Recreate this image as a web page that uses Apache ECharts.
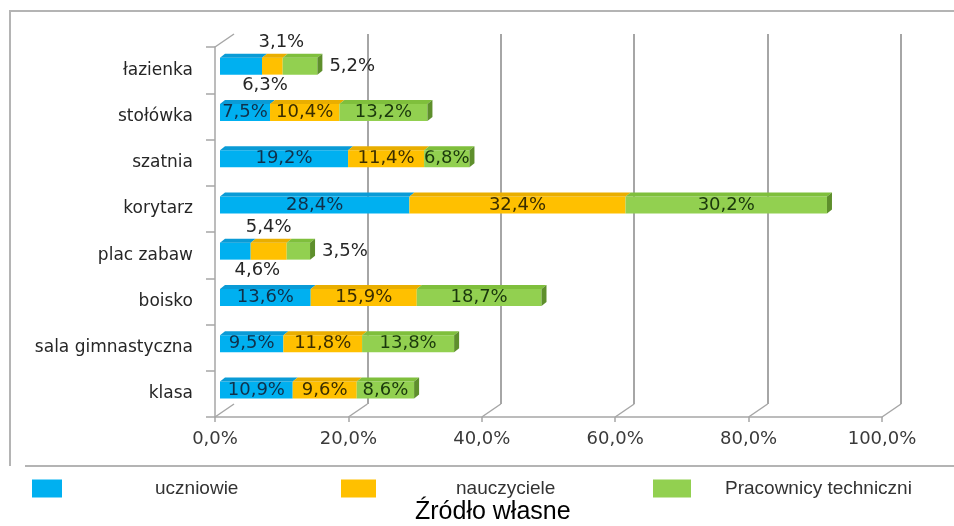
<!DOCTYPE html>
<html>
<head>
<meta charset="utf-8">
<script src="https://cdn.jsdelivr.net/npm/echarts@6/dist/echarts.min.js"></script>
<style>html,body{margin:0;padding:0;background:#fff;}#c{width:954px;height:526px;}</style>
</head>
<body>
<div id="c"></div>
<script>
const categories = ['łazienka','stołówka','szatnia','korytarz','plac zabaw','boisko','sala gimnastyczna','klasa'];
const uczniowie   = [6.3, 7.5, 19.2, 28.4, 4.6, 13.6, 9.5, 10.9];
const nauczyciele = [3.1, 10.4, 11.4, 32.4, 5.4, 15.9, 11.8, 9.6];
const techniczni  = [5.2, 13.2, 6.8, 30.2, 3.5, 18.7, 13.8, 8.6];
const seriesNames = ['uczniowie', 'nauczyciele', 'Pracownicy techniczni'];
const xTicks = [0, 20, 40, 60, 80, 100];
const sourceText = 'Źródło własne';

const values = [uczniowie, nauczyciele, techniczni];
const colors = ['#00b0f0', '#ffc000', '#92d050'];
const topColors = ['#0a9bd6', '#e9ae00', '#7fbf3c'];
const sideColor = '#5e8f2c';
const insideText = ['#10304a', '#3a2d00', '#1a380c'];
const BAR_H = 17, DX = 5, DY = 4;   // bar depth
const WX = 19, WY = 13;              // wall depth

const fmt = v => v.toFixed(1).replace('.', ',') + '%';

// label overrides for small segments
const special = {
  'łazienka':   [{position:'bottom', distance:2, offset:[24,0]}, {position:'top', distance:6, offset:[9,0]}, {position:'right', distance:12}],
  'plac zabaw': [{position:'bottom', distance:2, offset:[22,0]}, {position:'top', distance:6, offset:[0,0]}, {position:'right', distance:12}]
};

const lblFont = {fontFamily:'DejaVu Sans', fontSize:18};

const series = [];
values.forEach((arr, si) => {
  series.push({
    type:'bar', name:seriesNames[si], stack:'total', xAxisIndex:2, yAxisIndex:2,
    barWidth:BAR_H, itemStyle:{color:colors[si]}, z:3,
    label:Object.assign({show:true, position:'inside', color:insideText[si], formatter:p => fmt(p.value)}, lblFont),
    data: arr.map((v, ci) => {
      const sp = special[categories[ci]];
      if (!sp) return v;
      return {value:v, label:Object.assign({color:'#262626'}, sp[si])};
    })
  });
});

// 3D faces
values.forEach((arr, si) => {
  const data = arr.map((v, ci) => {
    let s = 0; for (let k = 0; k < si; k++) s += values[k][ci];
    return [ci, s, s + v];
  });
  const last = si === values.length - 1;
  series.push({
    type:'custom', xAxisIndex:2, yAxisIndex:2, z:4, silent:true,
    encode:{x:[1,2], y:0},
    data,
    renderItem:(params, api) => {
      const c = api.value(0), s = api.value(1), e = api.value(2);
      const p0 = api.coord([s, c]), p1 = api.coord([e, c]);
      const yt = p0[1] - BAR_H/2, yb = p0[1] + BAR_H/2;
      const ch = [{
        type:'polygon',
        shape:{points:[[p0[0], yt], [p1[0], yt], [p1[0]+DX, yt-DY], [p0[0]+DX, yt-DY]]},
        style:{fill:topColors[si]}
      }];
      if (last) ch.push({
        type:'polygon',
        shape:{points:[[p1[0], yt], [p1[0]+DX, yt-DY], [p1[0]+DX, yb-DY], [p1[0], yb]]},
        style:{fill:sideColor}
      });
      return {type:'group', children:ch};
    }
  });
});

// wall connectors (front plane to back plane)
series.push({
  type:'custom', xAxisIndex:0, yAxisIndex:0, z:1, silent:true,
  encode:{x:0},
  data: xTicks.map(t => [t, 0]).concat([[0, 1]]),
  renderItem:(params, api) => {
    const cs = params.coordSys;
    const x = api.coord([api.value(0), 0])[0];
    const y = api.value(1) === 1 ? cs.y : cs.y + cs.height;
    return {type:'line', shape:{x1:x, y1:y, x2:x+WX, y2:y-WY}, style:{stroke:'#a6a6a6', lineWidth:1.5}};
  }
});

const legends = seriesNames.map((n, i) => ({
  data:[n], left:[27, 336, 648][i], top:474, icon:'rect',
  itemWidth:[30, 35, 38][i], itemHeight:18, selectedMode:false,
  textStyle:{fontFamily:'Liberation Sans', fontSize:19, color:'#333', padding:[0,0,0,[88,75,29][i]]}
}));

const option = {
  backgroundColor:'#fff',
  animation:false,
  title:{text:sourceText, left:410, top:495, textStyle:{fontFamily:'Liberation Sans', fontSize:25, fontWeight:'normal', color:'#000'}},
  legend:legends,
  grid:[
    {left:215, right:72, top:47, bottom:109},   // front plane
    {left:234, right:53, top:34, bottom:122},   // back plane
    {left:220, right:67, top:43, bottom:113}    // bars
  ],
  xAxis:[
    {gridIndex:0, type:'value', min:0, max:100, interval:20,
     axisLine:{show:true, lineStyle:{color:'#a6a6a6', width:1.5}},
     axisTick:{show:true, length:5, lineStyle:{color:'#a6a6a6', width:1.5}},
     splitLine:{show:false},
     axisLabel:{margin:13, color:'#3a3a3a', fontFamily:'DejaVu Sans', fontSize:18, formatter:v => fmt(v)}},
    {gridIndex:1, type:'value', min:0, max:100, interval:20,
     axisLine:{show:false}, axisTick:{show:false}, axisLabel:{show:false},
     splitLine:{show:true, showMinLine:false, lineStyle:{color:'#a6a6a6', width:2}}},
    {gridIndex:2, type:'value', min:0, max:100, interval:20, show:false, splitLine:{show:false}}
  ],
  yAxis:[
    {gridIndex:0, type:'category', data:categories, inverse:true,
     axisLine:{show:true, lineStyle:{color:'#a6a6a6', width:1.5}},
     axisTick:{show:true, length:9, lineStyle:{color:'#a6a6a6', width:1.5}},
     axisLabel:{margin:22, color:'#262626', fontFamily:'DejaVu Sans', fontSize:17}},
    {gridIndex:1, type:'category', data:categories, inverse:true, show:false},
    {gridIndex:2, type:'category', data:categories, inverse:true, show:false}
  ],
  graphic:[
    {type:'polyline', shape:{points:[[10,466],[10,11],[954,11]]}, style:{stroke:'#b4b4b4', lineWidth:2, fill:null}, silent:true},
    {type:'line', shape:{x1:25, y1:466, x2:954, y2:466}, style:{stroke:'#b4b4b4', lineWidth:2}, silent:true}
  ],
  series
};

const chart = echarts.init(document.getElementById('c'), null, {renderer:'canvas'});
chart.setOption(option);
</script>
</body>
</html>
